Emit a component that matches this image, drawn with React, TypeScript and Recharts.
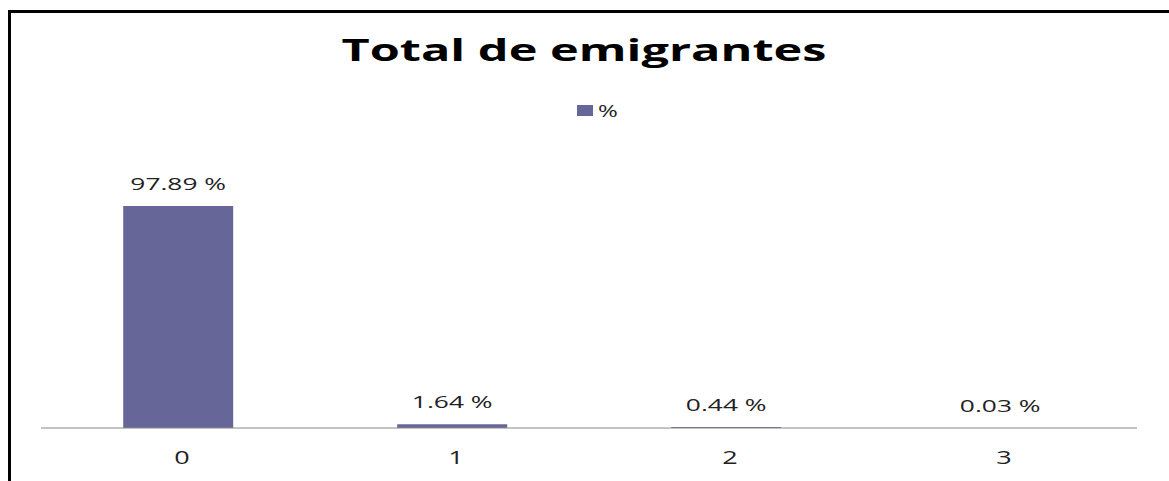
import { BarChart, Bar, XAxis, YAxis, LabelList } from 'recharts';

const categories = ['0', '1', '2', '3'];
const percentValues = [97.89, 1.64, 0.44, 0.03];
const valueLabels = ['97.89 %', '1.64 %', '0.44 %', '0.03 %'];

const data = categories.map((c, i) => ({ name: c, pct: percentValues[i], label: valueLabels[i] }));

const BAR_COLOR = '#666699';
const FONT = '"Open Sans", sans-serif';
const STRETCH = 1.5;

const StretchedTick = ({ x, payload }: any) => (
  <text
    transform={`translate(${x + 4},464) scale(${STRETCH},1)`}
    textAnchor="middle"
    fontFamily={FONT}
    fontSize={18}
    fill="#222"
  >
    {payload.value}
  </text>
);

const ValueLabel = ({ x, y, width, index }: any) => (
  <text
    transform={`translate(${x + width / 2},${y - 16}) scale(1.55,1)`}
    textAnchor="middle"
    fontFamily={FONT}
    fontSize={17}
    fill="#222"
  >
    {valueLabels[index]}
  </text>
);

export default function App() {
  return (
    <div style={{ position: 'absolute', left: 0, top: 0, width: 1169, height: 481, background: '#fff' }}>
      {/* frame: top and left edges only */}
      <div style={{ position: 'absolute', left: 8, top: 10, right: 0, bottom: 0, borderTop: '3px solid #000', borderLeft: '3px solid #000' }} />
      <svg width={1169} height={481} style={{ position: 'absolute', left: 0, top: 0 }}>
        <text
          transform={`translate(584,61) scale(1.57,1)`}
          textAnchor="middle"
          fontFamily={FONT}
          fontWeight="bold"
          fontSize={31}
          fill="#000"
        >
          Total de emigrantes
        </text>
        <rect x={577} y={105} width={16} height={11} fill={BAR_COLOR} />
        <text transform={`translate(598,117) scale(${STRETCH},1)`} fontFamily={FONT} fontSize={16} fill="#222">
          %
        </text>
      </svg>
      <div style={{ position: 'absolute', left: 0, top: 0 }}>
        <BarChart
          width={1169}
          height={481}
          data={data}
          margin={{ top: 156, right: 32, bottom: 23, left: 41 }}
          barCategoryGap="30%"
        >
          <XAxis
            dataKey="name"
            height={30}
            tickLine={false}
            axisLine={{ stroke: '#888' }}
            tick={<StretchedTick />}
            interval={0}
          />
          <YAxis hide domain={[0, 120]} />
          <Bar dataKey="pct" fill={BAR_COLOR} isAnimationActive={false}>
            <LabelList dataKey="label" content={<ValueLabel />} />
          </Bar>
        </BarChart>
      </div>
    </div>
  );
}
